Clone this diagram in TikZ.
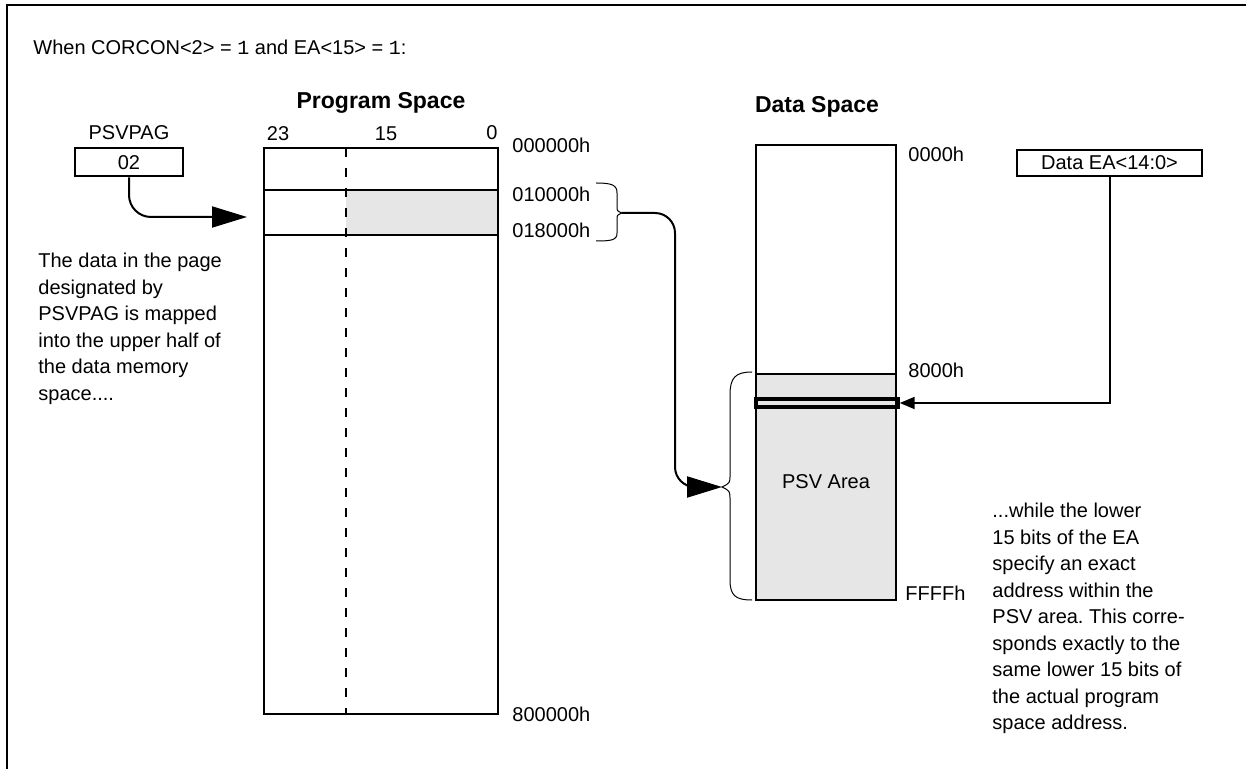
\documentclass[tikz,border=0pt]{standalone}
\usepackage{fontspec}
\setmainfont{Liberation Sans}
\setmonofont{Liberation Mono}
\usetikzlibrary{arrows.meta,positioning}
\definecolor{psvgray}{RGB}{230,230,230}
\frenchspacing
\tikzset{
  lbl/.style={inner sep=0pt, font=\fontsize{10}{13.25}\selectfont},
  heading/.style={inner sep=0pt, font=\fontsize{11.5}{14}\selectfont\bfseries},
  regbox/.style={draw, line width=1pt, inner sep=0pt, font=\fontsize{10}{12}\selectfont},
  memline/.style={line width=1pt},
  bigarrow/.style={line width=1pt, -{Triangle[length=17.5pt,width=10.5pt]}},
  smallarrow/.style={line width=1pt, -{Triangle[length=7.5pt,width=6pt]}},
  bracepath/.style={line width=0.5pt}
}

\begin{document}
\begin{tikzpicture}[x=0.5pt, y=-0.5pt]
\useasboundingbox (0,0) rectangle (1246,769);
% frame
\draw[line width=1pt] (1246,5) -- (7,5) -- (7,769);

\node[lbl, anchor=base west] (cond) at (33,55)
  {When CORCON<2> = \texttt{1} and EA<15> = \texttt{1}:};

% program space
\node[heading, anchor=base] (progtitle) at (381,109) {Program Space};
\node[lbl, anchor=base] (bit23) at (278,141) {23};
\node[lbl, anchor=base] (bit15) at (386,141) {15};
\node[lbl, anchor=base] (bit0) at (492,140) {0};
\fill[psvgray] (346,190) rectangle (498,235);
\draw[memline] (264,148) rectangle (498,714);
\draw[memline] (264,190) -- (498,190) (264,235) -- (498,235);
\draw[memline, dash pattern=on 4.7pt off 5.3pt] (346,148) -- (346,714);

\node[lbl, anchor=base west] (addr000) at (512,153) {000000h};
\node[lbl, anchor=base west] (addr010) at (512,202) {010000h};
\node[lbl, anchor=base west] (addr018) at (512,238) {018000h};
\node[lbl, anchor=base west] (addr800) at (512,721) {800000h};

% page register
\node[lbl, anchor=base] (psvname) at (129,140) {PSVPAG};
\node[
    regbox,
    minimum width=54pt,
    minimum height=14pt
] (psvpag) at (129,162.5) {02};
\coordinate (pagerow) at (247,217);
\draw[bigarrow, rounded corners=11pt] (psvpag.south) |- (pagerow);

\node[lbl, anchor=north west, align=left] (leftnote) at (38,253)
  {The data in the page\\designated by\\PSVPAG is mapped\\into the upper half of\\the data memory\\space....};

% page brace
\coordinate (pagetip) at (622,213);
\draw[bracepath] (596,183) .. controls (612,183) and (617,185) .. (617,193)
  -- (617,206) .. controls (617,211) .. (pagetip)
  .. controls (617,215) .. (617,220) -- (617,233)
  .. controls (617,240) and (612,241) .. (596,241);

% data space
\node[heading, anchor=base] (datatitle) at (817,113) {Data Space};
\fill[psvgray] (756,374) rectangle (896,600);
\draw[memline] (756,145) rectangle (896,600);
\draw[memline] (756,374) -- (896,374);
\node[lbl, anchor=base west] (addr0000) at (908,162) {0000h};
\node[lbl, anchor=base west] (addr8000) at (908,378) {8000h};
\node[lbl, anchor=base west] (addrffff) at (905,600) {FFFFh};
\node[lbl, anchor=base] (psvarea) at (826,488) {PSV Area};
\node[
    draw,
    line width=1.7pt,
    minimum width=71pt,
    minimum height=4pt,
    inner sep=0pt
] (easlot) at (827,403) {};

% area brace
\coordinate (areatip) at (722,487);
\draw[bracepath] (752,372) .. controls (735,372) and (730,378) .. (730,395)
  -- (730,475) .. controls (730,483) .. (areatip)
  .. controls (730,491) .. (730,500) -- (730,580)
  .. controls (730,596) and (736,600) .. (752,600);

\coordinate (drop) at (675,213);
\draw[bigarrow, rounded corners=10pt] (pagetip) -- (drop) |- (areatip);

% effective address
\node[
    regbox,
    minimum width=92.5pt,
    minimum height=13pt
] (dataea) at (1109.5,163) {Data EA<14:0>};
\draw[smallarrow] (dataea.south) |- (easlot.east);

\node[lbl, anchor=north west, align=left] (rightnote) at (992,503)
  {...while the lower\\15 bits of the EA\\specify an exact\\address within the\\PSV area. This corre-\\sponds exactly to the\\same lower 15 bits of\\the actual program\\space address.};
\end{tikzpicture}
\end{document}
